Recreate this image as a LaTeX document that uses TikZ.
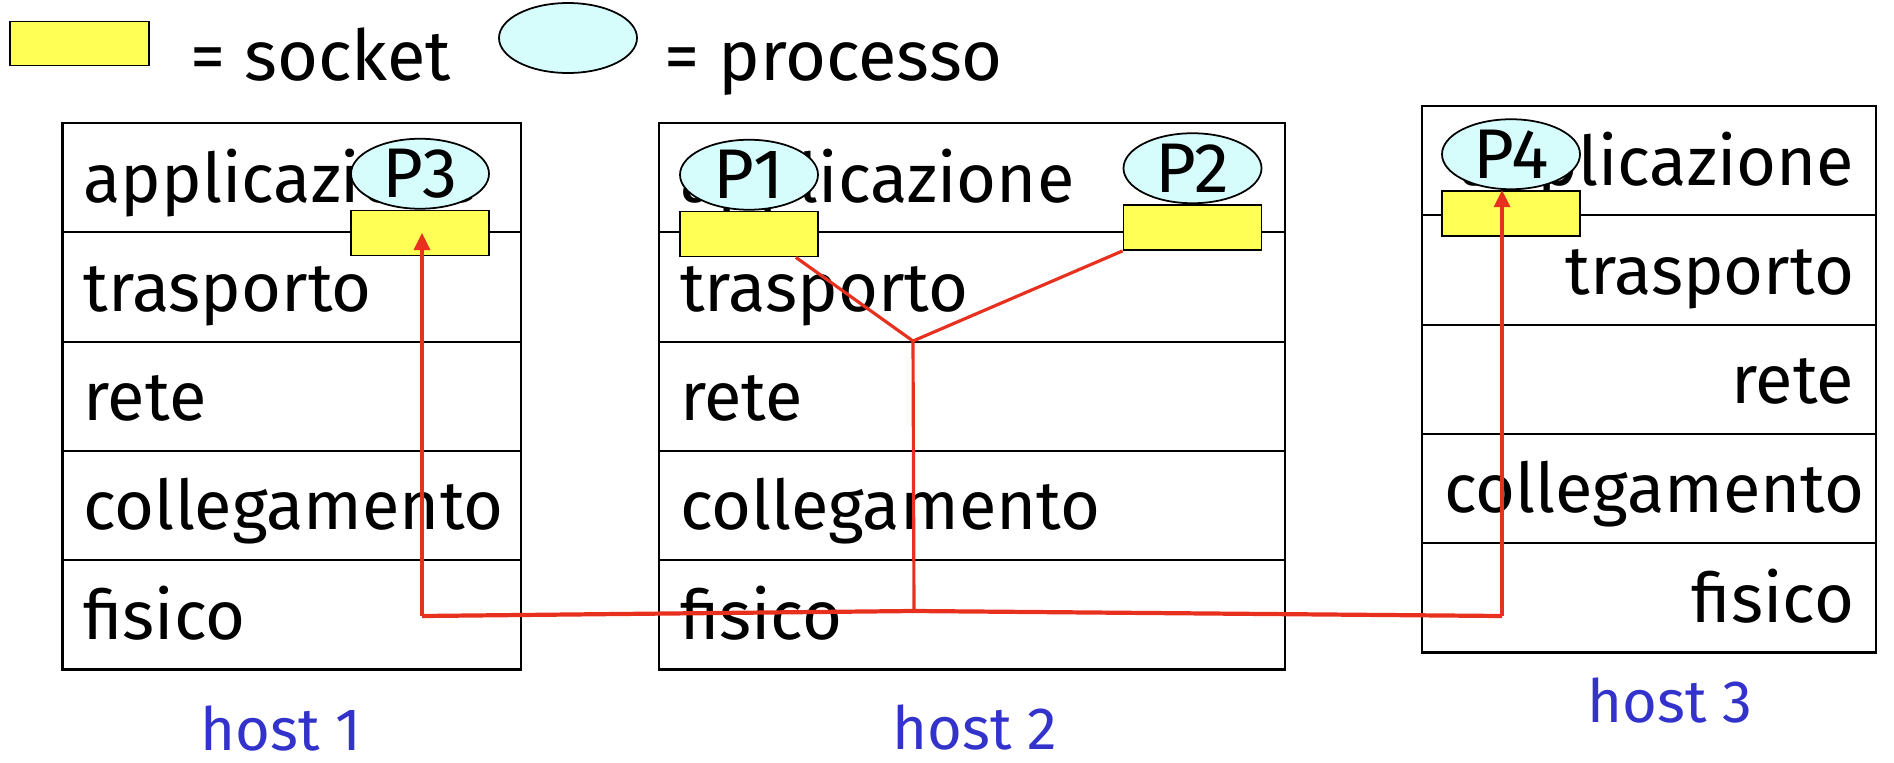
\documentclass[tikz,border=0pt]{standalone}
\usepackage{fontspec}
\setmainfont{Fira Sans}
\usetikzlibrary{positioning, arrows.meta, shapes.geometric}
\definecolor{sockyellow}{HTML}{FFFF55}
\definecolor{proccyan}{HTML}{D6FCFC}
\definecolor{linkred}{HTML}{E8301F}
\definecolor{hostblue}{HTML}{3333CC}
\tikzset{
	layer/.style={draw, line width=0.6pt, outer sep=0pt, minimum height=1.093cm, inner xsep=0.21cm,
		text height=0.6cm, text depth=0.113cm, font=\fontsize{19.5}{23}\selectfont},
	socket/.style={draw, line width=0.5pt, fill=sockyellow, minimum width=1.38cm,
		minimum height=0.45cm, inner sep=0pt},
	proc/.style={draw, ellipse, line width=0.5pt, fill=proccyan, minimum width=1.38cm,
		minimum height=0.70cm, inner sep=0pt, font=\fontsize{20}{24}\selectfont},
	legtext/.style={anchor=base west, inner sep=0pt, font=\fontsize{20}{24}\selectfont},
	hostlabel/.style={anchor=base, inner sep=0pt, text=hostblue, font=\fontsize{17}{20}\selectfont},
	link/.style={draw=linkred, line width=0.9pt},
	bus/.style={draw=linkred, line width=1.2pt}
}

\begin{document}
\begin{tikzpicture}
\useasboundingbox (0,0) rectangle (18.94,-7.62);

\node[socket, minimum width=1.39cm, minimum height=0.44cm] (lsock) at (0.795,-0.435) {};
\node[legtext] (lsocktext) at (1.90,-0.80) {= socket};
\node[proc] (lproc) at (5.68,-0.38) {};
\node[legtext] (lproctext) at (6.64,-0.80) {= processo};

\node[layer, text width=4.165cm, align=left, anchor=north west] (h1a) at (0.625,-1.23) {applicazione};
\node[layer, text width=4.165cm, align=left, below=0pt of h1a] (h1t) {trasporto};
\node[layer, text width=4.165cm, align=left, below=0pt of h1t] (h1r) {rete};
\node[layer, text width=4.165cm, align=left, below=0pt of h1r] (h1c) {collegamento};
\node[layer, text width=4.165cm, align=left, below=0pt of h1c] (h1f) {fisico};

\node[layer, text width=5.84cm, align=left, anchor=north west] (h2a) at (6.59,-1.23) {applicazione};
\node[layer, text width=5.84cm, align=left, below=0pt of h2a] (h2t) {trasporto};
\node[layer, text width=5.84cm, align=left, below=0pt of h2t] (h2r) {rete};
\node[layer, text width=5.84cm, align=left, below=0pt of h2r] (h2c) {collegamento};
\node[layer, text width=5.84cm, align=left, below=0pt of h2c] (h2f) {fisico};

\node[layer, text width=4.10cm, align=right, inner xsep=0.22cm, anchor=north west] (h3a) at (14.22,-1.06) {applicazione};
\node[layer, text width=4.10cm, align=right, inner xsep=0.22cm, below=0pt of h3a] (h3t) {trasporto};
\node[layer, text width=4.10cm, align=right, inner xsep=0.22cm, below=0pt of h3t] (h3r) {rete};
\node[layer, text width=4.10cm, align=right, inner xsep=0.22cm, below=0pt of h3r] (h3c) {collegamento};
\node[layer, text width=4.10cm, align=right, inner xsep=0.22cm, below=0pt of h3c] (h3f) {fisico};

\node[socket] (s3) at (4.20,-2.33) {};
\node[proc, above=0pt of s3] (p3) {P3};
\node[socket] (s1) at (7.49,-2.34) {};
\node[proc, above=0pt of s1] (p1) {P1};
\node[socket] (s2) at (11.925,-2.275) {};
\node[proc, above=0pt of s2] (p2) {P2};
\node[socket] (s4) at (15.11,-2.135) {};
\node[proc, above=0pt of s4] (p4) {P4};

\coordinate (b1) at (4.22,-6.16);
\coordinate (b2) at (9.14,-6.11);
\coordinate (b3) at (15.02,-6.16);
\coordinate (j2) at (9.13,-3.41);

\draw[bus] (b1) -- (b2) -- (b3);
\draw[link, -{Triangle[length=0.17cm, width=0.16cm]}] (b1) -- (b1 |- s3.center);
\draw[link, -{Triangle[length=0.17cm, width=0.16cm]}] (b3) -- (b3 |- s4.north);
\draw[link] ([xshift=-0.23cm]s1.south east) -- (j2) -- (s2.south west);
\draw[link] (j2) -- (b2);

\node[hostlabel] (n1) at (2.81,-7.50) {host 1};
\node[hostlabel] (n2) at (9.75,-7.49) {host 2};
\node[hostlabel] (n3) at (16.70,-7.22) {host 3};
\end{tikzpicture}
\end{document}
